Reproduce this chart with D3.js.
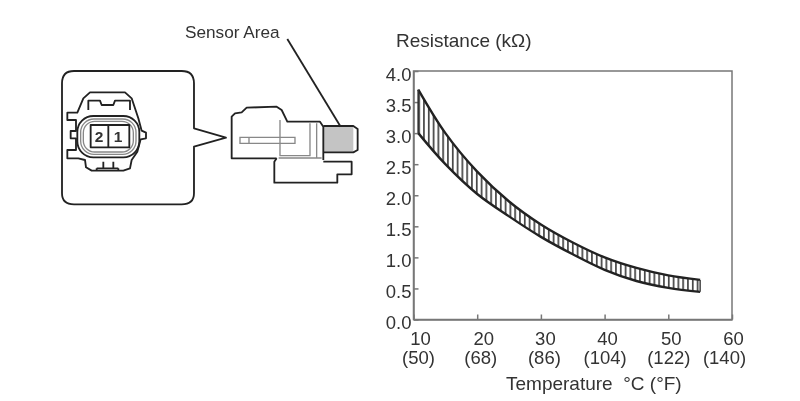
<!DOCTYPE html>
<style>
body { margin: 0; background: #fff; }
svg { display: block; filter: blur(0.5px); }
text { font-family: "Liberation Sans", Arial, sans-serif; fill: #333; }
.axis .domain, .axis line { stroke: #777; stroke-width: 1.5; }
.art { fill: none; stroke: #222; stroke-width: 5.5; stroke-linejoin: round; }
.thin { fill: none; stroke: #888; stroke-width: 4; }
</style>
<svg width="800" height="401"></svg>
<script src="https://d3js.org/d3.v7.min.js"></script>
<script>

// values
var temps = [10.75, 15, 20, 25, 30, 35, 40, 45, 50, 55];
var upper = [3.7, 3.0, 2.38, 1.9, 1.53, 1.24, 1.0, 0.83, 0.71, 0.637];
var lower = [3.0, 2.5, 2.02, 1.66, 1.33, 1.05, 0.8, 0.62, 0.51, 0.445];

var xTicks = [10, 20, 30, 40, 50, 60];
var xTicksF = ["(50)", "(68)", "(86)", "(104)", "(122)", "(140)"];
var yTicks = [0, 0.5, 1, 1.5, 2, 2.5, 3, 3.5, 4];

var svg = d3.select("svg"),
    margin = {top: 71, right: 68, bottom: 81.5, left: 413.5},
    w = +svg.attr("width") - margin.left - margin.right,
    height = +svg.attr("height") - margin.top - margin.bottom,
    g = svg.append("g").attr("transform", "translate(" + margin.left + "," + margin.top + ")");

var x = d3.scaleLinear().domain([10, 60]).range([0, w]);
var y = d3.scaleLinear().domain([0, 4]).range([height, 0]);

// frame
g.append("rect")
    .attr("width", w)
    .attr("height", height)
    .attr("fill", "none")
    .attr("stroke", "#777")
    .attr("stroke-width", 1.5);

var yAxis = g.append("g")
    .attr("class", "axis")
    .call(d3.axisLeft(y).tickValues(yTicks).tickFormat(d3.format(".1f")).tickSizeInner(-5).tickSizeOuter(0).tickPadding(2));
yAxis.selectAll("text").attr("font-size", 18.5).attr("dy", "0.5em");

var xAxis = g.append("g")
    .attr("class", "axis")
    .attr("transform", "translate(0," + height + ")")
    .call(d3.axisBottom(x).tickValues(xTicks).tickFormat("").tickSizeInner(-5).tickSizeOuter(0));

// two line labels, Celsius over Fahrenheit
var nudgeC = [6.5, 6, 4, 2.5, 2.5, 1], nudgeF = [4.5, 3, 3, 0, 0, -8];
xAxis.selectAll(".tick").each(function(d, i) {
  var t = d3.select(this).select("text")
      .attr("font-size", 18.5)
      .attr("text-anchor", "middle")
      .attr("y", 0)
      .attr("dy", 0);
  t.append("tspan").attr("x", nudgeC[i]).attr("y", 25.5).text(d);
  t.append("tspan").attr("x", nudgeF[i]).attr("y", 44).text(xTicksF[i]);
});

// hatched band
svg.append("defs").append("pattern")
    .attr("id", "hatch")
    .attr("patternUnits", "userSpaceOnUse")
    .attr("width", 4.8)
    .attr("height", 10)
  .append("rect")
    .attr("width", 1.7)
    .attr("height", 10)
    .attr("fill", "#444");

var band = temps.map(function(t, i) { return {t: t, hi: upper[i], lo: lower[i]}; });

g.append("path")
    .datum(band)
    .attr("fill", "url(#hatch)")
    .attr("stroke", "none")
    .attr("d", d3.area().curve(d3.curveCatmullRom)
      .x(function(d) { return x(d.t); })
      .y0(function(d) { return y(d.lo); })
      .y1(function(d) { return y(d.hi); }));

[upper, lower].forEach(function(s) {
  g.append("path")
      .datum(temps)
      .attr("fill", "none")
      .attr("stroke", "#222")
      .attr("stroke-width", 2.4)
      .attr("d", d3.line().curve(d3.curveCatmullRom)
        .x(function(d) { return x(d); })
        .y(function(d, i) { return y(s[i]); }));
});

g.append("line")
    .attr("x1", x(temps[0])).attr("x2", x(temps[0]))
    .attr("y1", y(upper[0])).attr("y2", y(lower[0]))
    .attr("stroke", "#333").attr("stroke-width", 1.8);

g.append("line")
    .attr("x1", x(temps[9])).attr("x2", x(temps[9]))
    .attr("y1", y(upper[9])).attr("y2", y(lower[9]))
    .attr("stroke", "#444").attr("stroke-width", 1.5);

// titles
svg.append("text").attr("x", 396).attr("y", 47).attr("font-size", 19).text("Resistance (k\u03a9)");
svg.append("text").attr("x", 506).attr("y", 390).attr("font-size", 19).attr("xml:space", "preserve").text("Temperature  \u00b0C (\u00b0F)");
svg.append("text").attr("x", 185).attr("y", 38).attr("font-size", 17.2).text("Sensor Area");

// connector callout, drawn 3x and scaled down
var call = svg.append("g").attr("transform", "translate(50,60) scale(0.3333)");
var art = function(sel, d, cls) { return sel.append("path").attr("class", cls || "art").attr("d", d); };

art(call, "M72 33 H395 Q432 33 432 70 V205 L528 233 L432 260 V400 Q432 433 395 433 H72 Q36 433 36 400 V70 Q36 33 72 33 Z");
art(call, "M52 158 H82 L100 115 L120 97 H225 L245 115 L265 175 L275 212 L288 218 V235 L272 238 L262 275 L245 300 L240 325 L220 332 H125 L108 322 L105 300 L85 295 H52 V270 H78 V235 H62 V213 H78 V180 H52 Z");
art(call, "M115 150 V122 H150 L155 135 H190 L195 122 H240 V150");
art(call, "M140 325 H205 M160 305 V325 M190 305 V325 M140 325 V332 M205 325 V332");
call.append("rect").attr("class", "art").attr("x", 82).attr("y", 168).attr("width", 186).attr("height", 124).attr("rx", 48);
call.append("rect").attr("class", "thin").attr("x", 92).attr("y", 177).attr("width", 166).attr("height", 106).attr("rx", 40);
call.append("rect").attr("class", "thin").attr("x", 100).attr("y", 184).attr("width", 150).attr("height", 92).attr("rx", 34);
art(call, "M122 195 H238 V262 H122 Z M175 195 V262");
svg.append("text").attr("x", 99).attr("y", 142).attr("font-size", 15.5).attr("font-weight", "bold").attr("text-anchor", "middle").text("2");
svg.append("text").attr("x", 118).attr("y", 142).attr("font-size", 15.5).attr("font-weight", "bold").attr("text-anchor", "middle").text("1");

// sensor side view
var side = svg.append("g").attr("transform", "translate(180,15) scale(0.3333)");
side.append("rect").attr("x", 430).attr("y", 333).attr("width", 90).attr("height", 79).attr("fill", "#c4c4c4");
art(side, "M290 430 H155 V305 L165 295 L185 292 L200 278 L290 275 L305 285 L322 320 H420 L430 335 V435");
art(side, "M430 333 H520 L533 342 V405 L520 412 H430");
art(side, "M290 430 L283 440 V503 H472 V478 H515 V440 H430");
art(side, "M322 72 L482 335").attr("stroke-width", 4);
art(side, "M300 315 V422 H390 V325 M410 325 V430 M296 429 H425", "thin");
art(side, "M180 367 H345 V385 H180 Z M207 367 V385", "thin");

</script>
